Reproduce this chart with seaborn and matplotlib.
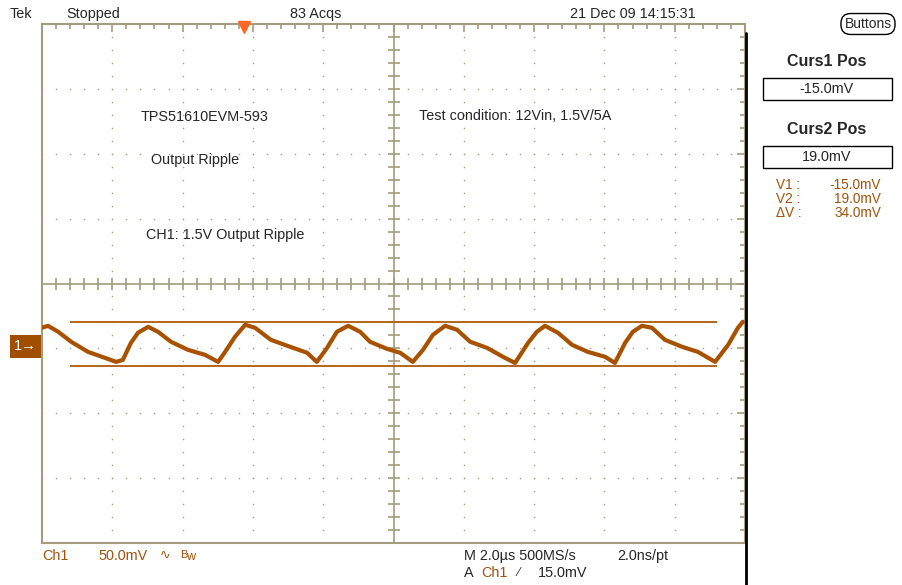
import numpy as np
import pandas as pd
import matplotlib
matplotlib.use("Agg")
import matplotlib.pyplot as plt
import seaborn as sns
from matplotlib.patches import Rectangle
from matplotlib.lines import Line2D

# Ch1 trace (time in us, voltage in mV relative to Ch1 ground)
time_us = [0.00, 0.17, 0.46, 0.83, 1.31, 1.79, 2.11, 2.30, 2.53, 2.73,
           3.02, 3.30, 3.67, 4.15, 4.64, 5.01, 5.21, 5.49, 5.78, 6.06,
           6.51, 7.06, 7.54, 7.82, 8.11, 8.39, 8.71, 9.05, 9.33, 9.82,
           10.19, 10.55, 10.84, 11.12, 11.47, 11.81, 12.18, 12.66, 13.17, 13.46,
           13.83, 14.08, 14.31, 14.68, 15.08, 15.53, 16.02, 16.30, 16.59, 16.81,
           17.07, 17.35, 17.72, 18.21, 18.66, 19.15, 19.52, 19.80, 19.94]
ch1_mv = [14.4, 15.9, 11.3, 3.6, -4.2, -8.8, -11.9, -10.4, 2.8, 10.5,
          15.1, 11.3, 3.6, -2.6, -6.5, -11.9, -4.2, 7.4, 16.7, 14.4,
          5.1, -0.3, -4.9, -11.9, -1.1, 11.3, 15.9, 11.3, 3.6, -1.9,
          -4.9, -11.9, -2.6, 8.9, 15.9, 12.8, 3.6, -1.1, -8.8, -12.7,
          2.8, 11.3, 15.9, 10.5, 1.2, -4.2, -8.0, -12.7, 2.8, 11.3,
          15.9, 14.4, 5.1, -0.3, -4.2, -11.9, 1.2, 14.4, 19.0]

cursor_mv = [-15.0, 19.0]
cursor_span_us = [0.8, 19.2]
trigger_us = 5.75

volts_per_div = 50.0   # mV/div
time_per_div = 2.0     # us/div
ch1_ground_div = -0.97  # Ch1 ground position below screen centre

df = pd.DataFrame({"t": time_us, "v": ch1_mv})

W, H = 903, 585
def fx(px):
    return px / W
def fy(py):
    return 1 - py / H

sns.set_style("white")
plt.rcParams["font.family"] = ["Liberation Sans", "DejaVu Sans"]

trace_col = "#A85200"
cur_col = "#B5651D"
grid_col = "#A39C7E"
label_col = "#A0520C"
fs = 10.4

fig = plt.figure(figsize=(W / 100, H / 100), dpi=100)
ax = fig.add_axes([fx(42), fy(543), fx(745) - fx(42), fy(24) - fy(543)])

y_centre = -ch1_ground_div * volts_per_div
ax.set_xlim(0, 10 * time_per_div)
ax.set_ylim(y_centre - 4 * volts_per_div, y_centre + 4 * volts_per_div)

# graticule: dotted division lines
xmaj = np.arange(0, 10 * time_per_div + 1e-6, time_per_div)
ymaj = y_centre + volts_per_div * np.arange(-4, 5)
xmin = np.arange(0, 10 * time_per_div + 1e-6, time_per_div / 5)
ymin = y_centre + volts_per_div / 5 * np.arange(-20, 21)
gx, gy = [], []
for xv in xmaj[1:-1]:
    gx += [xv] * len(ymin); gy += list(ymin)
for yv in ymaj[1:-1]:
    gx += list(xmin); gy += [yv] * len(xmin)
ax.scatter(gx, gy, s=1.2, color=grid_col, linewidths=0, zorder=1)

# centre cross with ticks
ax.axvline(5 * time_per_div, color=grid_col, lw=1.2, zorder=1)
ax.axhline(y_centre, color=grid_col, lw=1.2, zorder=1)
ax.plot([5 * time_per_div] * len(ymin), ymin, ls="none", marker="_",
        ms=8, mew=1.2, color=grid_col, zorder=1)
ax.plot(xmin, [y_centre] * len(xmin), ls="none", marker="|",
        ms=8, mew=1.2, color=grid_col, zorder=1)

# border ticks
ax.set_xticks(xmaj)
ax.set_xticks(xmin, minor=True)
ax.set_yticks(ymaj)
ax.set_yticks(ymin, minor=True)
ax.tick_params(which="both", direction="in", top=True, right=True,
               labelbottom=False, labelleft=False, color=grid_col, width=1.2)
ax.tick_params(which="major", length=6)
ax.tick_params(which="minor", length=3.5)
for s in ax.spines.values():
    s.set_color(grid_col)
    s.set_linewidth(1.5)

# cursors
ax.hlines(cursor_mv, cursor_span_us[0], cursor_span_us[1], color=cur_col, lw=1.4, zorder=2)

# trace
sns.lineplot(data=df, x="t", y="v", ax=ax, color=trace_col, lw=3, zorder=3)
ax.set_xlabel("")
ax.set_ylabel("")

# trigger marker
ax.plot([trigger_us], [y_centre + 4 * volts_per_div - 2.5], marker="v", ms=9,
        color="#FF6A22", clip_on=False, zorder=5)

# Ch1 ground marker
ax.text(-0.007, 0, "1\u2192", transform=ax.get_yaxis_transform(), ha="right",
        va="center", color="white", fontsize=10.5,
        bbox=dict(boxstyle="square,pad=0.3", fc="#A04F00", ec="none"))

# annotations inside screen
ax.text(fx(141), fy(117), "TPS51610EVM-593", transform=fig.transFigure, fontsize=fs, va="center")
ax.text(fx(151), fy(160), "Output Ripple", transform=fig.transFigure, fontsize=fs, va="center")
ax.text(fx(146), fy(235), "CH1: 1.5V Output Ripple", transform=fig.transFigure, fontsize=fs, va="center")
ax.text(fx(419), fy(116), "Test condition: 12Vin, 1.5V/5A", transform=fig.transFigure, fontsize=fs, va="center")

# header
fig.text(fx(10), fy(14), "Tek", fontsize=fs, va="center")
fig.text(fx(66), fy(14), "Stopped", fontsize=fs, va="center")
fig.text(fx(290), fy(14), "83 Acqs", fontsize=fs, va="center")
fig.text(fx(570), fy(14), "21 Dec 09 14:15:31", fontsize=fs, va="center")
fig.text(fx(868), fy(24), "Buttons", fontsize=10, ha="center", va="center",
         bbox=dict(boxstyle="round,pad=0.25,rounding_size=0.7", fc="white", ec="black", lw=1))

# right panel
fig.add_artist(Line2D([fx(746), fx(746)], [fy(33), fy(585)], color="black", lw=2))
fig.text(fx(827), fy(62), "Curs1 Pos", fontsize=11.5, weight="bold", ha="center", va="center")
fig.add_artist(Rectangle((fx(763), fy(100)), fx(892) - fx(763), fy(78) - fy(100),
                         fill=False, ec="black", lw=1, transform=fig.transFigure))
fig.text(fx(827), fy(89), "-15.0mV", fontsize=fs, ha="center", va="center")
fig.text(fx(827), fy(130), "Curs2 Pos", fontsize=11.5, weight="bold", ha="center", va="center")
fig.add_artist(Rectangle((fx(763), fy(168)), fx(892) - fx(763), fy(146) - fy(168),
                         fill=False, ec="black", lw=1, transform=fig.transFigure))
fig.text(fx(827), fy(157), "19.0mV", fontsize=fs, ha="center", va="center")
readout_labels = ["V1 :", "V2 :", "\u0394V :"]
readout_values = ["-15.0mV", "19.0mV", "34.0mV"]
for i, (lab, val) in enumerate(zip(readout_labels, readout_values)):
    yy = fy(185 + 14 * i)
    fig.text(fx(776), yy, lab, fontsize=9.8, color=label_col, va="center")
    fig.text(fx(881), yy, val, fontsize=9.8, color=label_col, ha="right", va="center")

# footer
fig.text(fx(42), fy(556), "Ch1", fontsize=fs, color=label_col, va="center")
fig.text(fx(98), fy(556), "50.0mV", fontsize=fs, color=label_col, va="center")
fig.text(fx(160), fy(556), "\u223f", fontsize=9, color=label_col, va="center")
fig.text(fx(180), fy(555), "B", fontsize=8, color=label_col, va="center")
fig.text(fx(186), fy(557), "w", fontsize=9, color=label_col, va="center")
fig.text(fx(464), fy(556), "M 2.0\u00b5s 500MS/s", fontsize=fs, va="center")
fig.text(fx(617), fy(556), "2.0ns/pt", fontsize=fs, va="center")
fig.text(fx(464), fy(573), "A", fontsize=fs, va="center")
fig.text(fx(481), fy(573), "Ch1", fontsize=fs, color=label_col, va="center")
fig.text(fx(518), fy(573), "\u2215", fontsize=9, va="center")
fig.text(fx(538), fy(573), "15.0mV", fontsize=fs, va="center")

fig.savefig("out.png", dpi=100)
